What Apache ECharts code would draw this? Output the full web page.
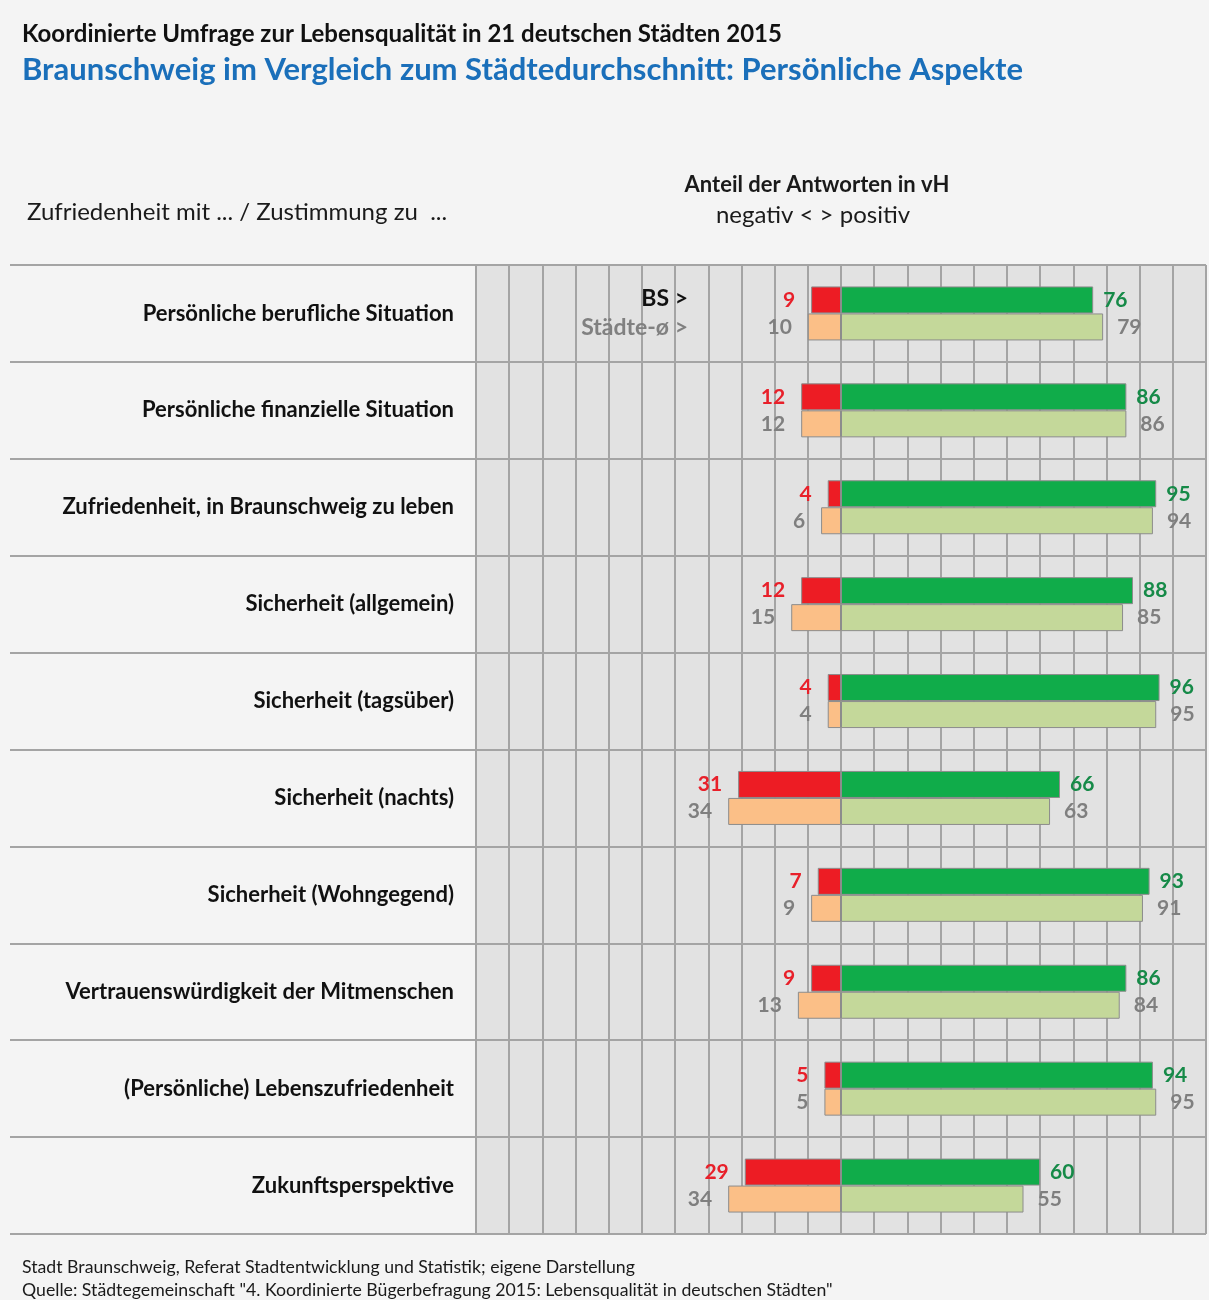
<!DOCTYPE html>
<html>
<head>
<meta charset="utf-8">
<title>Lebensqualität Braunschweig</title>
<script src="https://cdn.jsdelivr.net/npm/echarts@6/dist/echarts.min.js"></script>
<style>
  html, body { margin: 0; padding: 0; background: #ffffff; }
  #chart { width: 1209px; height: 1300px; }
</style>
</head>
<body>
<div id="chart"></div>
<script type="text/javascript">
  // Daten (Anteil der Antworten in vH)
  var categories = [
    'Persönliche berufliche Situation',
    'Persönliche finanzielle Situation',
    'Zufriedenheit, in Braunschweig zu leben',
    'Sicherheit (allgemein)',
    'Sicherheit (tagsüber)',
    'Sicherheit (nachts)',
    'Sicherheit (Wohngegend)',
    'Vertrauenswürdigkeit der Mitmenschen',
    '(Persönliche) Lebenszufriedenheit',
    'Zukunftsperspektive'
  ];
  var bsNegativ = [9, 12, 4, 12, 4, 31, 7, 9, 5, 29];
  var bsPositiv = [76, 86, 95, 88, 96, 66, 93, 86, 94, 60];
  var staedteNegativ = [10, 12, 6, 15, 4, 34, 9, 13, 5, 34];
  var staedtePositiv = [79, 86, 94, 85, 95, 63, 91, 84, 95, 55];

  var FONT = 'Lato';
  var lineGray = '#a4a4a4';

  var chart = echarts.init(document.getElementById('chart'));

  function neg(arr) {
    return arr.map(function (v) { return -v; });
  }
  function absLabel(p) {
    return Math.abs(p.value);
  }

  var option = {
    backgroundColor: '#f4f4f4',
    textStyle: { fontFamily: FONT },
    animation: false,
    graphic: [
      { type: 'text', left: 22, top: 22, style: { text: 'Koordinierte Umfrage zur Lebensqualität in 21 deutschen Städten 2015', font: 'bold 24px ' + FONT, fill: '#111111' } },
      { type: 'text', left: 22, top: 54, style: { text: 'Braunschweig im Vergleich zum Städtedurchschnitt: Persönliche Aspekte', font: 'bold 31px ' + FONT, fill: '#1a6fba' } },
      { type: 'text', left: 27, top: 200, style: { text: 'Zufriedenheit mit ... / Zustimmung zu  ...', font: '24px ' + FONT, fill: '#1a1a1a' } },
      { type: 'text', x: 817, y: 185, style: { text: 'Anteil der Antworten in vH', font: 'bold 22px ' + FONT, fill: '#1a1a1a', align: 'center', verticalAlign: 'middle' } },
      { type: 'text', x: 813, y: 215, style: { text: 'negativ < > positiv', font: '24px ' + FONT, fill: '#1a1a1a', align: 'center', verticalAlign: 'middle' } },
      { type: 'text', x: 688, y: 299, z: 10, style: { text: 'BS >', font: 'bold 23px ' + FONT, fill: '#111111', align: 'right', verticalAlign: 'middle' } },
      { type: 'text', x: 688, y: 328, z: 10, style: { text: 'Städte-ø >', font: 'bold 23px ' + FONT, fill: '#808080', align: 'right', verticalAlign: 'middle' } },
      { type: 'text', left: 22, top: 1258, style: { text: 'Stadt Braunschweig, Referat Stadtentwicklung und Statistik; eigene Darstellung', font: '17.7px ' + FONT, fill: '#1a1a1a' } },
      { type: 'text', left: 22, top: 1281, style: { text: 'Quelle: Städtegemeinschaft "4. Koordinierte Bügerbefragung 2015: Lebensqualität in deutschen Städten"', font: '17.7px ' + FONT, fill: '#1a1a1a' } }
    ],
    grid: [
      {
        left: 476,
        right: 3,
        top: 265,
        bottom: 66,
        show: true,
        backgroundColor: '#e2e2e2',
        borderWidth: 0
      },
      {
        // nur für die durchgehenden Zeilentrenner
        left: 10,
        right: 3,
        top: 265,
        bottom: 66,
        show: false
      }
    ],
    xAxis: [
      {
        type: 'value',
        gridIndex: 0,
        min: -110,
        max: 110,
        interval: 10,
        axisLabel: { show: false },
        axisLine: { show: false },
        axisTick: { show: false },
        splitLine: { show: true, lineStyle: { color: lineGray, width: 2 } }
      },
      {
        type: 'value',
        gridIndex: 1,
        show: false,
        min: 0,
        max: 1
      }
    ],
    yAxis: [
      {
        type: 'category',
        gridIndex: 0,
        inverse: true,
        data: categories,
        axisLine: { show: false },
        axisTick: { show: false },
        splitLine: { show: true, lineStyle: { color: lineGray, width: 2 } },
        axisLabel: {
          margin: 22,
          fontFamily: FONT,
          fontSize: 22,
          fontWeight: 'bold',
          color: '#111111'
        }
      },
      {
        type: 'category',
        gridIndex: 1,
        inverse: true,
        data: categories,
        z: 1,
        axisLine: { show: false },
        axisTick: { show: false },
        axisLabel: { show: false },
        splitLine: { show: true, lineStyle: { color: lineGray, width: 2 } }
      }
    ],
    series: [
      {
        name: 'BS negativ',
        type: 'bar',
        stack: 'bs',
        barWidth: 27,
        barGap: '0%',
        data: neg(bsNegativ),
        itemStyle: { color: '#ed1c24', borderColor: '#8c8c8c', borderWidth: 1 },
        label: { show: true, position: 'left', distance: 16, formatter: absLabel, color: '#e8202a', fontWeight: 'bold', fontSize: 21, fontFamily: FONT }
      },
      {
        name: 'BS positiv',
        type: 'bar',
        stack: 'bs',
        barWidth: 27,
        barGap: '0%',
        data: bsPositiv,
        itemStyle: { color: '#10ac4a', borderColor: '#8c8c8c', borderWidth: 1 },
        label: { show: true, position: 'right', distance: 10, formatter: absLabel, color: '#168a48', fontWeight: 'bold', fontSize: 21, fontFamily: FONT }
      },
      {
        name: 'Städte negativ',
        type: 'bar',
        stack: 'staedte',
        barWidth: 27,
        barGap: '0%',
        data: neg(staedteNegativ),
        itemStyle: { color: '#fbbf87', borderColor: '#8c8c8c', borderWidth: 1 },
        label: { show: true, position: 'left', distance: 16, formatter: absLabel, color: '#7f7f7f', fontWeight: 'bold', fontSize: 21, fontFamily: FONT }
      },
      {
        name: 'Städte positiv',
        type: 'bar',
        stack: 'staedte',
        barWidth: 27,
        barGap: '0%',
        data: staedtePositiv,
        itemStyle: { color: '#c4d89a', borderColor: '#8c8c8c', borderWidth: 1 },
        label: { show: true, position: 'right', distance: 14, formatter: absLabel, color: '#7f7f7f', fontWeight: 'bold', fontSize: 21, fontFamily: FONT }
      }
    ]
  };

  chart.setOption(option);
</script>
</body>
</html>
